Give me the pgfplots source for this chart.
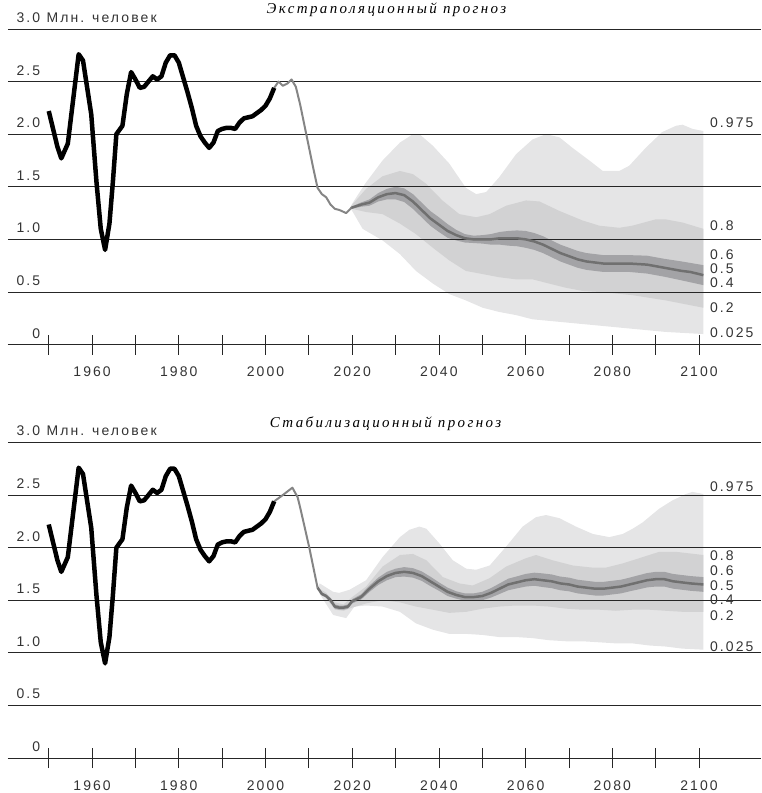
\documentclass[border=0pt]{standalone}
\usepackage{fontspec}
\setmainfont{Liberation Sans}[LetterSpace=15]
\newfontfamily\titlefont{Liberation Serif}[LetterSpace=16]
\usepackage{pgfplots}
\pgfplotsset{compat=1.18}
\usepackage{pgfplotstable}
\usepgfplotslibrary{fillbetween}

\definecolor{bandA}{HTML}{E5E5E6}
\definecolor{bandB}{HTML}{D2D2D3}
\definecolor{bandC}{HTML}{A3A3A6}
\definecolor{medgray}{HTML}{707070}
\definecolor{histgray}{HTML}{858585}
\definecolor{txt}{HTML}{333333}

% observed births, 1950-2002 (mln)
\pgfplotstableread{
year val
1950 2.22
1951 2.05
1952 1.88
1952.9 1.77
1954.4 1.91
1956.9 2.76
1957.9 2.70
1959.8 2.19
1961 1.55
1962 1.10
1963 0.90
1964 1.15
1964.8 1.55
1965.6 2.00
1967 2.08
1968 2.38
1969 2.59
1970 2.52
1971 2.44
1972 2.45
1973 2.50
1974 2.55
1975 2.52
1976 2.55
1977 2.68
1978 2.75
1979 2.75
1980 2.68
1981 2.54
1982 2.40
1983 2.25
1984 2.08
1985 1.98
1986 1.92
1987 1.87
1988 1.92
1989 2.03
1990 2.05
1991 2.06
1992 2.06
1993 2.05
1994 2.11
1995 2.15
1996 2.16
1997 2.17
1998 2.20
1999 2.23
2000 2.27
2001 2.34
2002 2.44
}\history

\tikzset{qlabel/.style={anchor=west, inner sep=0pt, text=txt, font=\fontsize{14}{16}\selectfont}}

\pgfplotsset{
  fanchart/.style={
    anchor=south west, scale only axis, width=754pt, height=316pt,
    xmin=1940.6, xmax=2114.3, ymin=0, ymax=3,
    axis x line*=bottom, axis y line*=left,
    y axis line style={draw=none},
    x axis line style={black!85, line width=0.8pt},
    xtick={1950,1960,...,2100},
    xticklabels={,1960,,1980,,2000,,2020,,2040,,2060,,2080,,2100},
    xtick align=center, ytick align=inside, major tick length=20pt,
    xtick style={black!85, line width=0.8pt},
    ytick={0,0.5,1,1.5,2,2.5,3},
    yticklabels={0,0.5,1.0,1.5,2.0,2.5,{3.0\rlap{\hspace{0.45em}Млн. человек}}},
    ytick style={draw=none},
    ymajorgrids, grid style={black!85, line width=0.8pt},
    set layers, clip=false,
    tick label style={font=\fontsize{14}{16}\selectfont, text=txt},
    yticklabel style={anchor=base east, inner sep=0pt, xshift=32.5pt, yshift=6.5pt},
    xticklabel style={anchor=base, inner sep=0pt, yshift=-22pt},
  },
}

\begin{document}
\begin{tikzpicture}

% ---------------- extrapolation forecast ----------------
\begin{axis}[fanchart, at={(8pt,449pt)}]
\addplot[name path=a975, draw=none] coordinates {
(2019.5,1.30) (2020,1.34) (2023,1.53) (2027,1.75) (2031,1.92) (2034,2.00)
(2035.5,2.00) (2038.6,1.89) (2042.4,1.72) (2046.2,1.49) (2048.6,1.43)
(2050.9,1.45) (2053.9,1.59) (2057.8,1.81) (2061.6,1.95) (2064.7,2.00)
(2067.8,1.97) (2070.8,1.87) (2074.7,1.75) (2077.8,1.65) (2081.6,1.65)
(2083.9,1.70) (2087.7,1.87) (2091.5,2.02) (2094.7,2.08) (2096.2,2.09)
(2098.5,2.05) (2101,2.03)};
\addplot[name path=a025, draw=none] coordinates {
(2019.5,1.30) (2020,1.27) (2022.4,1.10) (2027,0.99) (2031,0.86) (2034.7,0.70)
(2038.6,0.58) (2042.4,0.48) (2046.2,0.42) (2050.1,0.35) (2053.9,0.31)
(2057.8,0.28) (2061.6,0.24) (2069.3,0.21) (2077,0.18) (2084.6,0.15)
(2092.3,0.12) (2101,0.10)};
\addplot[name path=a80, draw=none] coordinates {
(2019.5,1.30) (2020,1.33) (2023.2,1.48) (2027,1.60) (2031,1.65) (2034,1.62)
(2037,1.53) (2040.8,1.37) (2044.7,1.24) (2048.6,1.21) (2051.7,1.24)
(2055.5,1.32) (2060.1,1.37) (2063.2,1.36) (2067.8,1.27) (2073.1,1.18)
(2077,1.13) (2081.6,1.11) (2084.6,1.13) (2090,1.19) (2092.3,1.19)
(2096.2,1.16) (2101,1.10)};
\addplot[name path=a20, draw=none] coordinates {
(2019.5,1.30) (2020,1.29) (2023.2,1.26) (2027,1.24) (2031,1.15) (2034.7,1.05)
(2038.6,0.92) (2042.4,0.80) (2046.2,0.70) (2050.1,0.67) (2053.9,0.64)
(2057.8,0.62) (2061.6,0.62) (2065.4,0.58) (2069.3,0.54) (2073.1,0.51)
(2077,0.50) (2084.6,0.47) (2092.3,0.42) (2101,0.35)};
\addplot[name path=a60, draw=none] coordinates {
(2019.8,1.31) (2022,1.35) (2024,1.38) (2026,1.44) (2028,1.48) (2030,1.50)
(2032,1.485) (2034,1.43) (2036,1.35) (2038,1.27) (2040,1.21) (2042,1.145)
(2044,1.09) (2046,1.05) (2048,1.035) (2050,1.04) (2052,1.05) (2054,1.07)
(2056,1.08) (2058,1.085) (2060,1.08) (2062,1.06) (2064,1.03) (2066,0.99)
(2068,0.95) (2070,0.92) (2072,0.89) (2074,0.87) (2076,0.86) (2078,0.85)
(2080,0.85) (2084,0.85) (2088,0.845) (2092,0.815) (2096,0.79) (2101,0.755)};
\addplot[name path=a40, draw=none] coordinates {
(2019.8,1.29) (2022,1.31) (2024,1.32) (2026,1.36) (2028,1.38) (2030,1.38)
(2032,1.355) (2034,1.29) (2036,1.21) (2038,1.13) (2040,1.07) (2042,1.015)
(2044,0.99) (2046,0.97) (2048,0.965) (2050,0.96) (2052,0.95) (2054,0.95)
(2056,0.94) (2058,0.935) (2060,0.92) (2062,0.90) (2064,0.87) (2066,0.83)
(2068,0.79) (2070,0.76) (2072,0.73) (2074,0.71) (2076,0.70) (2078,0.69)
(2080,0.69) (2084,0.69) (2088,0.675) (2092,0.645) (2096,0.61) (2101,0.565)};
\addplot[bandA] fill between[of=a975 and a025, on layer=axis background];
\addplot[bandB] fill between[of=a80 and a20, on layer=axis background];
\addplot[bandC] fill between[of=a60 and a40, on layer=axis background];

% recent / estimated
\addplot[histgray, line width=2pt, line join=round] coordinates {
(2002,2.44) (2003,2.50) (2004,2.46) (2005,2.48) (2006,2.52) (2007,2.45)
(2008,2.28) (2009,2.08) (2010,1.88) (2011,1.68) (2012,1.49) (2013,1.43)
(2014,1.40) (2015,1.33) (2016,1.29) (2017,1.28) (2018.6,1.25) (2019.8,1.30)};
% median
\addplot[medgray, line width=2.5pt, line join=round] coordinates {
(2019.8,1.30) (2022,1.33) (2024,1.35) (2026,1.40) (2028,1.43) (2030,1.44)
(2032,1.42) (2034,1.36) (2036,1.28) (2038,1.20) (2040,1.14) (2042,1.08)
(2044,1.04) (2046,1.01) (2048,1.00) (2050,1.00) (2052,1.00) (2054,1.01)
(2056,1.01) (2058,1.01) (2060,1.00) (2062,0.98) (2064,0.95) (2066,0.91)
(2068,0.87) (2070,0.84) (2072,0.81) (2074,0.79) (2076,0.78) (2078,0.77)
(2080,0.77) (2084,0.77) (2088,0.76) (2092,0.73) (2096,0.70) (2098,0.69)
(2101,0.66)};
\addplot[black, line width=4.5pt, line join=round] table[x=year, y=val] {\history};

\node[qlabel] at (axis cs:2102.5,2.11) {0.975};
\node[qlabel] at (axis cs:2102.5,1.13) {0.8};
\node[qlabel] at (axis cs:2102.5,0.855) {0.6};
\node[qlabel] at (axis cs:2102.5,0.72) {0.5};
\node[qlabel] at (axis cs:2102.5,0.59) {0.4};
\node[qlabel] at (axis cs:2102.5,0.35) {0.2};
\node[qlabel] at (axis cs:2102.5,0.114) {0.025};
\end{axis}
\node[anchor=base, font=\titlefont\itshape\fontsize{15}{17}\selectfont] at (387pt,780pt) {Экстраполяционный прогноз};

% ---------------- stabilisation forecast ----------------
\begin{axis}[fanchart, at={(8pt,35pt)}]
\addplot[name path=b975, draw=none] coordinates {
(2012,1.62) (2012.5,1.66) (2015.6,1.58) (2017,1.57) (2019.4,1.60)
(2023.2,1.69) (2027,1.91) (2031,2.10) (2033.2,2.17) (2035.5,2.20)
(2037.1,2.18) (2040.1,2.04) (2043.2,1.88) (2046.3,1.80) (2048.6,1.79)
(2051.7,1.83) (2055.5,2.01) (2059.3,2.20) (2062.4,2.29) (2064.7,2.31)
(2067.8,2.28) (2071.6,2.20) (2075.5,2.13) (2079.3,2.10) (2082.4,2.13)
(2084.7,2.18) (2087,2.24) (2090.8,2.37) (2093.9,2.45) (2097,2.51)
(2098.5,2.53) (2101,2.51)};
\addplot[name path=b025, draw=none] coordinates {
(2012,1.62) (2012.5,1.56) (2015.6,1.36) (2018.6,1.33) (2020.5,1.44)
(2023.2,1.45) (2027,1.44) (2031,1.39) (2034.7,1.28) (2038.6,1.22)
(2042.4,1.18) (2046.3,1.18) (2050.1,1.17) (2053.9,1.15) (2057.8,1.15)
(2061.6,1.14) (2065.4,1.12) (2069.3,1.11) (2073.1,1.11) (2077,1.10)
(2080.8,1.09) (2084.6,1.09) (2088.5,1.07) (2092.3,1.06) (2096.2,1.04)
(2101,1.03)};
\addplot[name path=b80, draw=none] coordinates {
(2012,1.62) (2014,1.57) (2016,1.48) (2018,1.46) (2020,1.53) (2023.2,1.63)
(2027,1.82) (2031,1.93) (2034,1.94) (2037.1,1.88) (2040.9,1.72)
(2044.7,1.66) (2047.8,1.64) (2051.7,1.71) (2055.5,1.82) (2060.1,1.90)
(2062.4,1.93) (2066.2,1.88) (2070.9,1.83) (2075.5,1.81) (2078.5,1.81)
(2082.4,1.85) (2087,1.91) (2090.8,1.96) (2094.7,1.96) (2101,1.93)};
\addplot[name path=b20, draw=none] coordinates {
(2012,1.62) (2014,1.52) (2016,1.41) (2018,1.40) (2020,1.43) (2023.2,1.47)
(2027,1.50) (2031,1.48) (2034.7,1.44) (2038.6,1.41) (2042.4,1.38)
(2046.3,1.39) (2050.1,1.42) (2053.9,1.44) (2057.8,1.45) (2061.6,1.45)
(2065.4,1.44) (2069.3,1.42) (2073.1,1.41) (2077,1.41) (2080.8,1.40)
(2084.6,1.41) (2088.5,1.41) (2092.3,1.40) (2096.2,1.39) (2101,1.39)};
\addplot[name path=b60, draw=none] coordinates {
(2012,1.62) (2013,1.575) (2014,1.555) (2015,1.52) (2016,1.46) (2017,1.45)
(2018,1.45) (2019,1.46) (2020,1.51) (2022,1.555) (2024,1.64) (2026,1.715)
(2028,1.77) (2030,1.80) (2032,1.815) (2034,1.805) (2036,1.775) (2038,1.725)
(2040,1.67) (2042,1.62) (2044,1.585) (2046,1.565) (2048,1.565) (2050,1.58)
(2052,1.615) (2054,1.66) (2056,1.705) (2058,1.727) (2060,1.75) (2062,1.762)
(2064,1.755) (2066,1.745) (2068,1.725) (2070,1.715) (2072,1.695) (2074,1.685)
(2076,1.675) (2078,1.675) (2080,1.685) (2082,1.695) (2084,1.715) (2086,1.737)
(2088,1.758) (2090,1.77) (2092,1.77) (2094,1.75) (2096,1.74) (2098,1.73)
(2101,1.72)};
\addplot[name path=b40, draw=none] coordinates {
(2012,1.62) (2013,1.545) (2014,1.525) (2015,1.48) (2016,1.42) (2017,1.41)
(2018,1.41) (2019,1.42) (2020,1.47) (2022,1.505) (2024,1.58) (2026,1.645)
(2028,1.69) (2030,1.72) (2032,1.725) (2034,1.715) (2036,1.685) (2038,1.635)
(2040,1.59) (2042,1.54) (2044,1.515) (2046,1.495) (2048,1.495) (2050,1.50)
(2052,1.525) (2054,1.56) (2056,1.595) (2058,1.613) (2060,1.63) (2062,1.638)
(2064,1.625) (2066,1.615) (2068,1.595) (2070,1.585) (2072,1.565) (2074,1.555)
(2076,1.545) (2078,1.545) (2080,1.555) (2082,1.565) (2084,1.585) (2086,1.603)
(2088,1.622) (2090,1.63) (2092,1.63) (2094,1.61) (2096,1.60) (2098,1.59)
(2101,1.58)};
\addplot[bandA] fill between[of=b975 and b025, on layer=axis background];
\addplot[bandB] fill between[of=b80 and b20, on layer=axis background];
\addplot[bandC] fill between[of=b60 and b40, on layer=axis background];

\addplot[histgray, line width=2pt, line join=round] coordinates {
(2002,2.44) (2004,2.50) (2006.2,2.57) (2007.4,2.48) (2008,2.38) (2009,2.20)
(2010.1,2.00) (2011,1.82) (2012,1.62)};
\addplot[medgray, line width=2.5pt, line join=round] coordinates {
(2012,1.62) (2013,1.56) (2014,1.54) (2015,1.50) (2016,1.44) (2017,1.43)
(2018,1.43) (2019,1.44) (2020,1.49) (2022,1.53) (2024,1.61) (2026,1.68)
(2028,1.73) (2030,1.76) (2032,1.77) (2034,1.76) (2036,1.73) (2038,1.68)
(2040,1.63) (2042,1.58) (2044,1.55) (2046,1.53) (2048,1.53) (2050,1.54)
(2052,1.57) (2054,1.61) (2056,1.65) (2058,1.67) (2060,1.69) (2062,1.70)
(2064,1.69) (2066,1.68) (2068,1.66) (2070,1.65) (2072,1.63) (2074,1.62)
(2076,1.61) (2078,1.61) (2080,1.62) (2082,1.63) (2084,1.65) (2086,1.67)
(2088,1.69) (2090,1.70) (2092,1.70) (2094,1.68) (2096,1.67) (2098,1.66)
(2101,1.65)};
\addplot[black, line width=4.5pt, line join=round] table[x=year, y=val] {\history};

\node[qlabel] at (axis cs:2102.5,2.58) {0.975};
\node[qlabel] at (axis cs:2102.5,1.92) {0.8};
\node[qlabel] at (axis cs:2102.5,1.78) {0.6};
\node[qlabel] at (axis cs:2102.5,1.64) {0.5};
\node[qlabel] at (axis cs:2102.5,1.51) {0.4};
\node[qlabel] at (axis cs:2102.5,1.35) {0.2};
\node[qlabel] at (axis cs:2102.5,1.06) {0.025};
\end{axis}
\node[anchor=base, font=\titlefont\itshape\fontsize{15}{17}\selectfont] at (386pt,366pt) {Стабилизационный прогноз};
\path (0,0) rectangle (762pt,793pt);
\end{tikzpicture}
\end{document}
